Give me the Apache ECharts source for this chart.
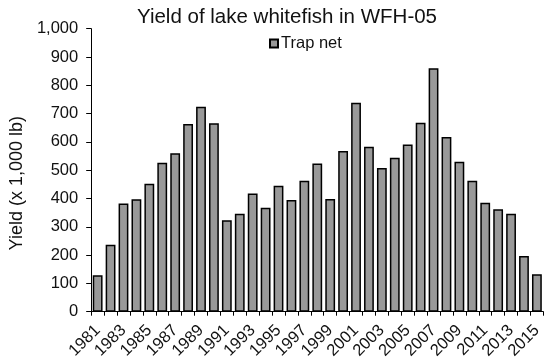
<!DOCTYPE html>
<html>
<head>
<meta charset="utf-8">
<script src="https://cdn.jsdelivr.net/npm/echarts@6/dist/echarts.min.js"></script>
<style>
  html, body { margin: 0; padding: 0; background: #fff; }
  #chart { width: 545px; height: 364px; }
</style>
</head>
<body>
<div id="chart"></div>
<script>
// Annual lake whitefish yield (thousands of lb), trap net fishery
const years = [
  '1981','1982','1983','1984','1985','1986','1987','1988','1989','1990',
  '1991','1992','1993','1994','1995','1996','1997','1998','1999','2000',
  '2001','2002','2003','2004','2005','2006','2007','2008','2009','2010',
  '2011','2012','2013','2014','2015'
];
const trapNet = [
  129, 237, 382, 397, 452, 526, 560, 663, 724, 666,
  323, 346, 418, 367, 445, 395, 463, 524, 398, 568,
  738, 583, 508, 544, 591, 668, 860, 617, 530, 463,
  385, 362, 346, 197, 132
];
const yTicks = { min: 0, max: 1000, step: 100 };

const FONT = 'Liberation Sans, Arial, sans-serif';
const chart = echarts.init(document.getElementById('chart'), null, { renderer: 'canvas' });

chart.setOption({
  animation: false,
  backgroundColor: '#fff',
  textStyle: { fontFamily: FONT, color: '#000' },
  title: {
    text: 'Yield of lake whitefish in WFH-05',
    left: 132,
    top: 2,
    textStyle: { fontFamily: FONT, fontSize: 20.5, fontWeight: 'normal', color: '#111' }
  },
  legend: {
    data: ['Trap net'],
    left: 264,
    top: 30,
    itemWidth: 8,
    itemHeight: 8,
    itemGap: 4,
    icon: 'rect',
    textStyle: { fontFamily: FONT, fontSize: 16.5, color: '#111', padding: [0, 0, 0, -2] }
  },
  grid: { left: 90, right: 1, top: 28.7, bottom: 52.3, containLabel: false },
  xAxis: {
    type: 'category',
    data: years,
    axisLine: { show: true, lineStyle: { color: '#000', width: 1 } },
    axisTick: { show: true, interval: 0, alignWithLabel: false, length: 4, lineStyle: { color: '#000' } },
    axisLabel: {
      interval: 1,
      rotate: 45,
      margin: 16,
      fontFamily: FONT,
      fontSize: 16.5,
      color: '#111'
    },
    splitLine: { show: false }
  },
  yAxis: {
    type: 'value',
    min: yTicks.min,
    max: yTicks.max,
    interval: yTicks.step,
    name: 'Yield (x 1,000 lb)',
    nameLocation: 'middle',
    nameGap: 65,
    nameTextStyle: { fontFamily: FONT, fontSize: 18, color: '#111', padding: [0, 26, 0, 0] },
    axisLine: { show: true, lineStyle: { color: '#000', width: 1 } },
    axisTick: { show: true, length: 5, lineStyle: { color: '#000' } },
    axisLabel: {
      margin: 13,
      fontFamily: FONT,
      fontSize: 16.5,
      color: '#111',
      formatter: v => v.toLocaleString('en-US')
    },
    splitLine: { show: false }
  },
  series: [{
    name: 'Trap net',
    type: 'bar',
    data: trapNet,
    barCategoryGap: '24%',
    itemStyle: { color: '#999999', borderColor: '#000', borderWidth: 1.5 }
  }]
});
</script>
</body>
</html>
